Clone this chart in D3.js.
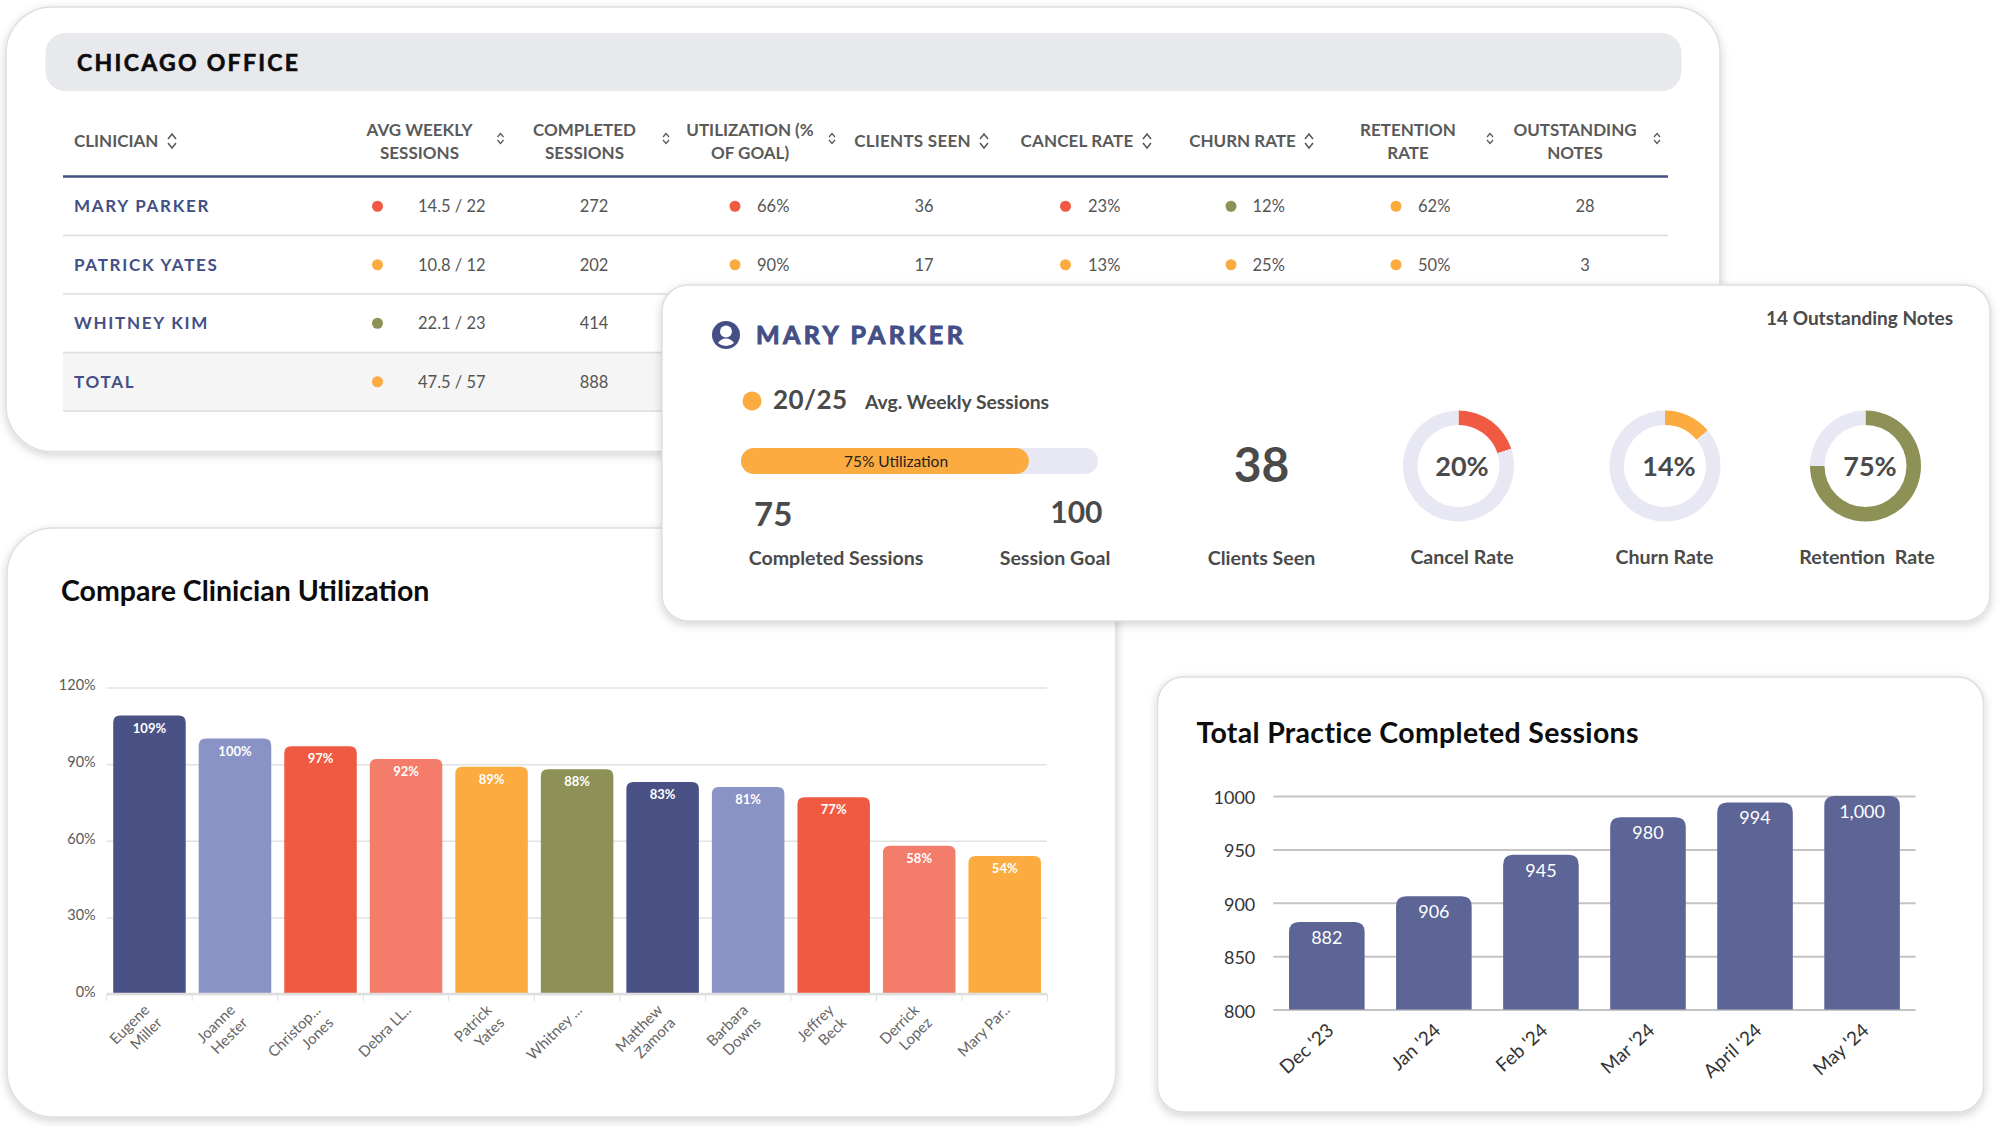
<!DOCTYPE html>
<html>
<head>
<meta charset="utf-8">
<script src="https://cdn.jsdelivr.net/npm/d3@7"></script>
<style>
html, body { margin: 0; padding: 0; background: #fff; }
svg { display: block; }
text { font-family: Lato, sans-serif; }
</style>
</head>
<body>
<svg id="main" width="2000" height="1127"></svg>
<script>
/*========== Table data ===========*/
var tableTitle = "CHICAGO OFFICE";
var clinicians = ["MARY PARKER", "PATRICK YATES", "WHITNEY KIM", "TOTAL"];
var weeklySessions = ["14.5 / 22", "10.8 / 12", "22.1 / 23", "47.5 / 57"];
var weeklyStatus = ["red", "amber", "olive", "amber"];
var completedSessions = ["272", "202", "414", "888"];
// the detail card covers the rest of the two lower rows
var utilization = ["66%", "90%"];
var utilizationStatus = ["red", "amber"];
var clientsSeen = ["36", "17"];
var cancelRate = ["23%", "13%"];
var cancelStatus = ["red", "amber"];
var churnRate = ["12%", "25%"];
var churnStatus = ["olive", "amber"];
var retentionRate = ["62%", "50%"];
var retentionStatus = ["amber", "amber"];
var outstandingNotes = ["28", "3"];

/*========== Detail card data ===========*/
var detailName = "MARY PARKER";
var detailNotes = "14 Outstanding Notes";
var detailWeekly = "20/25";
var detailCompleted = 75;
var detailGoal = 100;
var detailClients = 38;
var donutLabels = ["Cancel Rate", "Churn Rate", "Retention  Rate"];
var donutValues = [20, 14, 75];
var donutColors = ["#f15a42", "#fbab3f", "#8d9155"];

/*========== Utilization chart data ===========*/
var utilNames = [["Eugene", "Miller"], ["Joanne", "Hester"], ["Christop...", "Jones"], ["Debra LL.."],
    ["Patrick", "Yates"], ["Whitney ..."], ["Matthew", "Zamora"], ["Barbara", "Downs"],
    ["Jeffrey", "Beck"], ["Derrick", "Lopez"], ["Mary Par.."]];
var utilValues = [109, 100, 97, 92, 89, 88, 83, 81, 77, 58, 54];
var utilColors = ["#4a5285", "#8a93c6", "#f15a42", "#f37c6a", "#fbab3f", "#8d9155",
    "#4a5285", "#8a93c6", "#f15a42", "#f37c6a", "#fbab3f"];
var utilTicks = [0, 30, 60, 90, 120];

/*========== Sessions chart data ===========*/
var months = ["Dec '23", "Jan '24", "Feb '24", "Mar '24", "April '24", "May '24"];
var sessions = [882, 906, 945, 980, 994, 1000];
var sessionTicks = [800, 850, 900, 950, 1000];

var statusColor = {red: "#f15a42", amber: "#fbab3f", olive: "#8d9155"};
var navy = "#434f85", grey = "#4a4a4a";

var svg = d3.select("#main");

var defs = svg.append("defs");
var shadow = defs.append("filter").attr("id", "cardShadow")
    .attr("x", "-5%").attr("y", "-5%").attr("width", "110%").attr("height", "112%");
shadow.append("feDropShadow").attr("dx", 0).attr("dy", 3).attr("stdDeviation", 5)
    .attr("flood-color", "#000").attr("flood-opacity", 0.18);

function card(x, y, w, h, r) {
    var g = svg.append("g");
    g.append("rect").attr("x", x).attr("y", y).attr("width", w).attr("height", h).attr("rx", r)
        .attr("fill", "#fff").attr("stroke", "#dedede").attr("stroke-width", 1.5)
        .attr("filter", "url(#cardShadow)");
    return g;
}

// bar with rounded top corners only
function topRounded(x, y, w, h, r) {
    return "M" + x + "," + (y + h) + "V" + (y + r) + "Q" + x + "," + y + " " + (x + r) + "," + y +
        "H" + (x + w - r) + "Q" + (x + w) + "," + y + " " + (x + w) + "," + (y + r) + "V" + (y + h) + "Z";
}

function sortIcon(g, x, y, big) {
    var w = big ? 4 : 3, h = big ? 7 : 5, gap = big ? 2 : 1.5;
    g.append("path")
        .attr("d", "M" + (x - w) + "," + (y - gap) + "L" + x + "," + (y - h) + "L" + (x + w) + "," + (y - gap) +
            "M" + (x - w) + "," + (y + gap) + "L" + x + "," + (y + h) + "L" + (x + w) + "," + (y + gap))
        .attr("fill", "none").attr("stroke", "#555").attr("stroke-width", big ? 1.5 : 1.2);
}

/*========== Table card ===========*/
var tableCard = card(6, 7, 1714, 444.5, 46);
tableCard.append("rect").attr("x", 45.5).attr("y", 33).attr("width", 1636).attr("height", 58)
    .attr("rx", 20).attr("fill", "#e8e9ed");
tableCard.append("text").attr("x", 77).attr("y", 71).text(tableTitle)
    .attr("font-size", 23).attr("font-weight", 700).attr("letter-spacing", 2.3).attr("fill", "#0c0c0c")
    .attr("stroke", "#0c0c0c").attr("stroke-width", 0.6);

var headers = [
    {lines: ["CLINICIAN"], x: 74, anchor: "start", icon: 172},
    {lines: ["AVG WEEKLY", "SESSIONS"], x: 419.5, icon: 500.5},
    {lines: ["COMPLETED", "SESSIONS"], x: 584.5, icon: 666},
    {lines: ["UTILIZATION (%", "OF GOAL)"], x: 750, icon: 832},
    {lines: ["CLIENTS SEEN"], x: 912.5, icon: 984, spacing: 0.25},
    {lines: ["CANCEL RATE"], x: 1077, icon: 1147, spacing: 0.15},
    {lines: ["CHURN RATE"], x: 1242.5, icon: 1309},
    {lines: ["RETENTION", "RATE"], x: 1408, icon: 1490},
    {lines: ["OUTSTANDING", "NOTES"], x: 1575, icon: 1657}
];
headers.forEach(function (h) {
    h.lines.forEach(function (line, i) {
        tableCard.append("text").attr("x", h.x)
            .attr("y", h.lines.length == 1 ? 147 : 136 + i * 22.5)
            .attr("text-anchor", h.anchor || "middle")
            .attr("letter-spacing", h.spacing || 0)
            .attr("font-size", 17).attr("font-weight", 700).attr("fill", "#5a5a5a").text(line);
    });
    sortIcon(tableCard, h.icon, h.lines.length == 1 ? 141 : 138.5, h.lines.length == 1);
});
tableCard.append("line").attr("x1", 63).attr("x2", 1668).attr("y1", 176.5).attr("y2", 176.5)
    .attr("stroke", navy).attr("stroke-width", 2.5);

var rowY = d3.scaleBand().domain(d3.range(clinicians.length)).range([177, 411]);
tableCard.append("rect").attr("x", 63).attr("y", rowY(3)).attr("width", 700).attr("height", rowY.bandwidth())
    .attr("fill", "#f5f5f5");
clinicians.forEach(function (name, i) {
    var cy = rowY(i) + rowY.bandwidth() / 2;
    tableCard.append("line").attr("x1", 63).attr("x2", 1668)
        .attr("y1", rowY(i) + rowY.bandwidth()).attr("y2", rowY(i) + rowY.bandwidth())
        .attr("stroke", "#dcdcdc").attr("stroke-width", 1.5);
    tableCard.append("text").attr("x", 74).attr("y", cy + 6).text(name)
        .attr("font-size", 17).attr("font-weight", 700).attr("letter-spacing", 1.7).attr("fill", navy);
});

var cellColumns = [
    {values: weeklySessions, status: weeklyStatus, dot: 377.5, x: 418},
    {values: completedSessions, x: 594, anchor: "middle"},
    {values: utilization, status: utilizationStatus, dot: 735, x: 757},
    {values: clientsSeen, x: 924, anchor: "middle"},
    {values: cancelRate, status: cancelStatus, dot: 1065.5, x: 1088},
    {values: churnRate, status: churnStatus, dot: 1231, x: 1252.5},
    {values: retentionRate, status: retentionStatus, dot: 1396, x: 1418},
    {values: outstandingNotes, x: 1585, anchor: "middle"}
];
cellColumns.forEach(function (col) {
    col.values.forEach(function (v, i) {
        var cy = rowY(i) + rowY.bandwidth() / 2;
        if (col.status) {
            tableCard.append("circle").attr("cx", col.dot).attr("cy", cy).attr("r", 5.5)
                .attr("fill", statusColor[col.status[i]]);
        }
        tableCard.append("text").attr("x", col.x).attr("y", cy + 6).text(v)
            .attr("text-anchor", col.anchor || "start")
            .attr("font-size", 16.5).attr("fill", "#555");
    });
});

/*========== Utilization chart ===========*/
var utilCard = card(7, 528, 1109, 589, 46);
utilCard.append("text").attr("x", 61).attr("y", 601).text("Compare Clinician Utilization")
    .attr("font-size", 28.5).attr("font-weight", 700).attr("fill", "#0c0c0c");

var utilX = d3.scaleBand().domain(d3.range(utilValues.length)).range([106.7, 1047.5]).paddingInner(0.152).paddingOuter(0.076);
var utilY = d3.scaleLinear().domain([0, 120]).range([994, 687.5]);

var utilGrid = utilCard.append("g").attr("transform", "translate(106.7,0)")
    .call(d3.axisLeft(utilY).tickValues(utilTicks).tickSize(-940.3).tickPadding(11).tickFormat(function (d) { return d + "%"; }));
utilGrid.select(".domain").remove();
utilGrid.selectAll(".tick line").attr("stroke", "#e2e2e2").attr("stroke-width", 1.5);
utilGrid.selectAll(".tick text").attr("font-size", 14.5).attr("fill", "#5a5a5a").attr("font-family", "Lato").attr("dy", "0.16em");

utilCard.selectAll(".utilBar").data(utilValues).enter().append("path")
    .attr("class", "utilBar")
    .attr("d", function (d, i) { return topRounded(utilX(i), utilY(d), utilX.bandwidth(), 994 - utilY(d), 7); })
    .attr("fill", function (d, i) { return utilColors[i]; });
utilCard.selectAll(".utilValue").data(utilValues).enter().append("text")
    .attr("class", "utilValue")
    .attr("x", function (d, i) { return utilX(i) + utilX.bandwidth() / 2; })
    .attr("y", function (d) { return utilY(d) + 17; })
    .attr("text-anchor", "middle").attr("font-size", 13).attr("font-weight", 700).attr("fill", "#fff")
    .text(function (d) { return d + "%"; });

utilCard.append("line").attr("x1", 106.7).attr("x2", 1047).attr("y1", 994).attr("y2", 994)
    .attr("stroke", "#dedede").attr("stroke-width", 2.5);
d3.range(utilValues.length + 1).forEach(function (i) {
    var x = 106.7 + i * utilX.step();
    utilCard.append("line").attr("x1", x).attr("x2", x).attr("y1", 994).attr("y2", 1001)
        .attr("stroke", "#dedede").attr("stroke-width", 1);
});
utilNames.forEach(function (lines, i) {
    var cx = utilX(i) + utilX.bandwidth() / 2;
    var label = utilCard.append("text")
        .attr("transform", "translate(" + (cx + (lines.length == 2 ? 1 : 6)) + ",1011) rotate(-45)")
        .attr("text-anchor", "end").attr("font-size", 15).attr("fill", "#666");
    lines.forEach(function (line, j) {
        label.append("tspan").attr("x", 0).attr("y", j * 18).text(line);
    });
});

/*========== Sessions chart ===========*/
var sessionCard = card(1157.5, 677, 826, 435, 26);
sessionCard.append("text").attr("x", 1196.5).attr("y", 743).text("Total Practice Completed Sessions")
    .attr("font-size", 28.5).attr("font-weight", 700).attr("letter-spacing", 0.3).attr("fill", "#0c0c0c");

var sessX = d3.scaleBand().domain(months).range([1273.3, 1915.6]).paddingInner(0.294).paddingOuter(0.147);
var sessY = d3.scaleLinear().domain([800, 1000]).range([1009.5, 796]);

var sessGrid = sessionCard.append("g").attr("transform", "translate(1273.3,0)")
    .call(d3.axisLeft(sessY).tickValues(sessionTicks).tickSize(-642.3).tickPadding(18).tickFormat(d3.format("d")));
sessGrid.select(".domain").remove();
sessGrid.selectAll(".tick line").attr("stroke", "#c4c4c4").attr("stroke-width", 2);
sessGrid.selectAll(".tick text").attr("font-size", 18).attr("fill", "#333").attr("font-family", "Lato").attr("dy", "0.42em");

sessionCard.selectAll(".sessBar").data(sessions).enter().append("path")
    .attr("class", "sessBar")
    .attr("d", function (d, i) { return topRounded(sessX(months[i]), sessY(d), sessX.bandwidth(), 1009.5 - sessY(d), 10); })
    .attr("fill", "#5d6496");
sessionCard.selectAll(".sessValue").data(sessions).enter().append("text")
    .attr("class", "sessValue")
    .attr("x", function (d, i) { return sessX(months[i]) + sessX.bandwidth() / 2; })
    .attr("y", function (d) { return sessY(d) + 22; })
    .attr("text-anchor", "middle").attr("font-size", 18).attr("fill", "#fff")
    .text(function (d) { return d3.format(",")(d); });
months.forEach(function (m) {
    sessionCard.append("text")
        .attr("transform", "translate(" + (sessX(m) + sessX.bandwidth() / 2 + 8) + ",1032) rotate(-42)")
        .attr("text-anchor", "end").attr("font-size", 19).attr("fill", "#333").text(m);
});

/*========== Detail card ===========*/
var detail = card(662, 285, 1328, 336, 26);

var icon = detail.append("g").attr("transform", "translate(726,335)");
icon.append("circle").attr("r", 14).attr("fill", navy);
icon.append("circle").attr("cy", -3.5).attr("r", 6).attr("fill", "#fff");
icon.append("path").attr("d", "M-8,8Q-5,3.5 0,3.5Q5,3.5 8,8Q4.5,11 0,11Q-4.5,11 -8,8Z").attr("fill", "#fff");

detail.append("text").attr("x", 756).attr("y", 344).text(detailName)
    .attr("font-size", 25).attr("font-weight", 700).attr("letter-spacing", 3.4).attr("fill", navy)
    .attr("stroke", navy).attr("stroke-width", 1);
detail.append("text").attr("x", 1953).attr("y", 325).attr("text-anchor", "end").text(detailNotes)
    .attr("font-size", 19).attr("font-weight", 700).attr("fill", grey);

detail.append("circle").attr("cx", 752).attr("cy", 401).attr("r", 9.5).attr("fill", statusColor.amber);
detail.append("text").attr("x", 773).attr("y", 409).text(detailWeekly)
    .attr("font-size", 26).attr("font-weight", 700).attr("letter-spacing", 0.4).attr("fill", grey);
detail.append("text").attr("x", 865).attr("y", 409).text("Avg. Weekly Sessions")
    .attr("font-size", 19.3).attr("font-weight", 700).attr("fill", grey);

// the drawn fill runs past a true 75/100, so the track reads as 0 to 93
var barX = d3.scaleLinear().domain([0, 93]).range([741, 1098]);
detail.append("rect").attr("x", barX(0)).attr("y", 448).attr("width", barX(93) - barX(0)).attr("height", 26)
    .attr("rx", 13).attr("fill", "#e8e8f4");
detail.append("rect").attr("x", barX(0)).attr("y", 448).attr("width", barX(detailCompleted) - barX(0)).attr("height", 26)
    .attr("rx", 13).attr("fill", statusColor.amber);
detail.append("text").attr("x", 896).attr("y", 467).attr("text-anchor", "middle").text("75% Utilization")
    .attr("font-size", 15.5).attr("fill", "#222");

detail.append("text").attr("x", 754).attr("y", 526).text(detailCompleted)
    .attr("font-size", 33).attr("font-weight", 700).attr("fill", grey);
detail.append("text").attr("x", 1102.5).attr("y", 523).attr("text-anchor", "end").text(detailGoal)
    .attr("font-size", 30).attr("font-weight", 700).attr("fill", grey);
detail.append("text").attr("x", 836).attr("y", 565).attr("text-anchor", "middle").text("Completed Sessions")
    .attr("font-size", 19.6).attr("font-weight", 700).attr("fill", grey);
detail.append("text").attr("x", 1055).attr("y", 565).attr("text-anchor", "middle").text("Session Goal")
    .attr("font-size", 19.6).attr("font-weight", 700).attr("fill", grey);

detail.append("text").attr("x", 1261.5).attr("y", 482).attr("text-anchor", "middle").text(detailClients)
    .attr("font-size", 48).attr("font-weight", 700).attr("fill", grey);
detail.append("text").attr("x", 1261.5).attr("y", 565).attr("text-anchor", "middle").text("Clients Seen")
    .attr("font-size", 19.6).attr("font-weight", 700).attr("fill", grey);

var donutX = [1458.5, 1665, 1865.5];
var donutTextX = [1462, 1669, 1870];
var donutLabelX = [1462, 1664.5, 1867];
var arc = d3.arc().innerRadius(41).outerRadius(55.5);
var pie = d3.pie().sort(null);
donutValues.forEach(function (v, i) {
    var g = detail.append("g").attr("transform", "translate(" + donutX[i] + ",466)");
    g.selectAll("path").data(pie([v, 100 - v])).enter().append("path")
        .attr("d", arc)
        .attr("fill", function (d, j) { return j == 0 ? donutColors[i] : "#e8e8f4"; });
    detail.append("text").attr("x", donutTextX[i]).attr("y", 476).attr("text-anchor", "middle").text(v + "%")
        .attr("font-size", 27).attr("font-weight", 700).attr("fill", grey);
    detail.append("text").attr("x", donutLabelX[i]).attr("y", 564).attr("text-anchor", "middle")
        .attr("xml:space", "preserve").text(donutLabels[i])
        .attr("font-size", 19.6).attr("font-weight", 700).attr("fill", grey);
});
</script>
</body>
</html>
